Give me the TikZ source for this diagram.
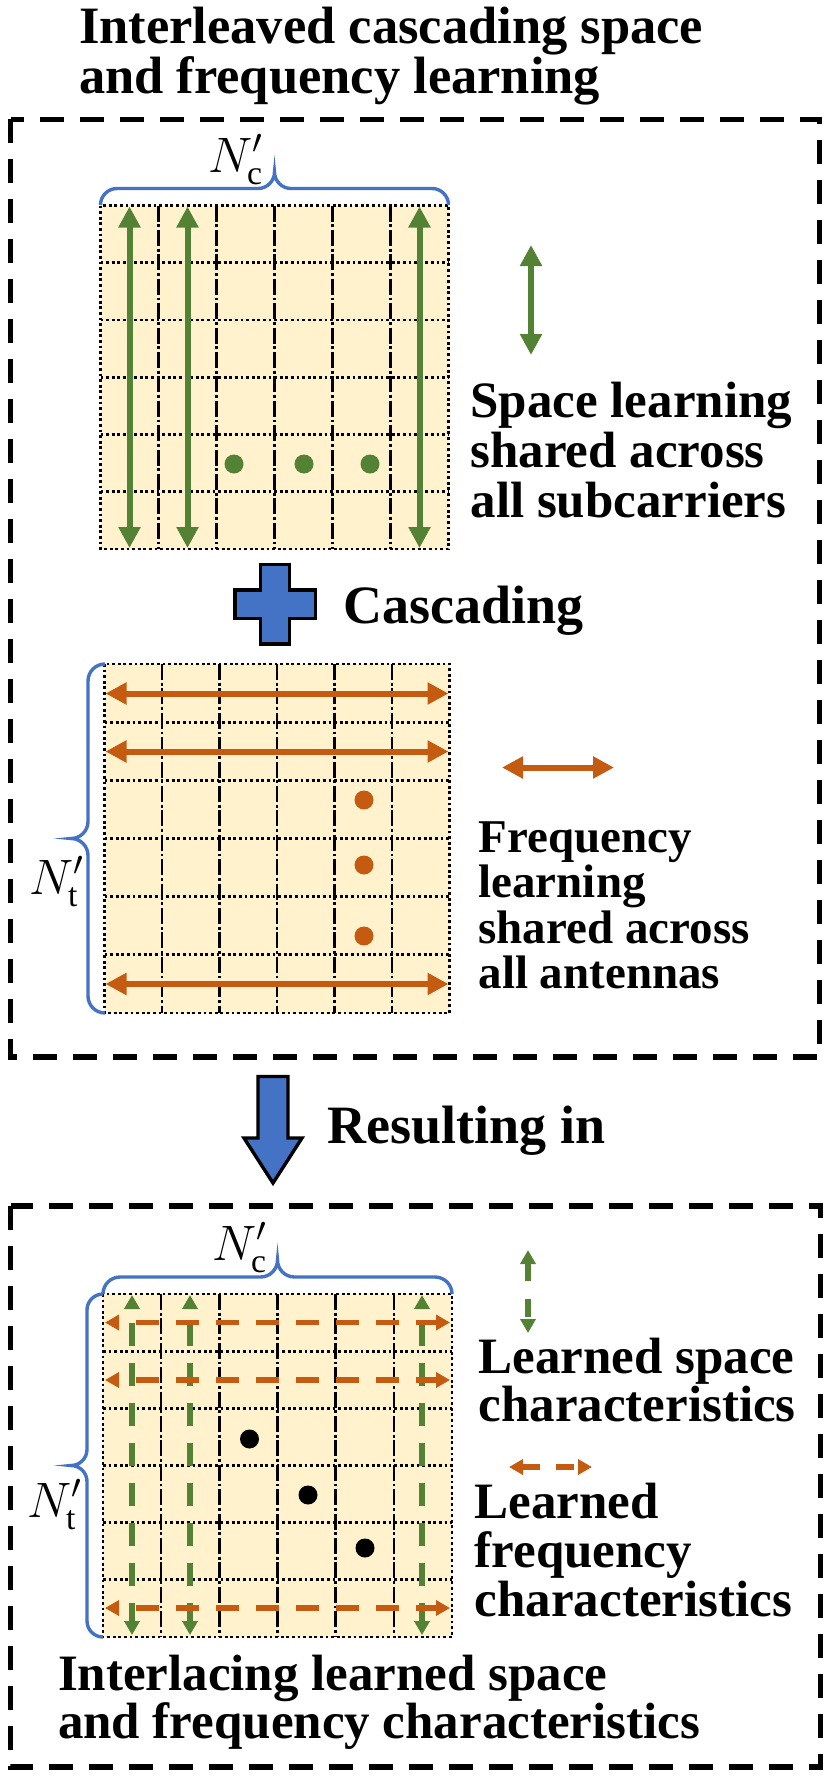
\documentclass[tikz,border=0pt]{standalone}
\usepackage{fontspec}
\setmainfont{Liberation Serif}
\usetikzlibrary{arrows.meta}
\definecolor{cblue}{HTML}{4472C4}
\definecolor{cgreen}{HTML}{548235}
\definecolor{corange}{HTML}{C55A11}
\definecolor{cyellow}{HTML}{FFF2CC}
\newcommand\cellgrid[5]{%
  \node[gridfill, minimum width={(#4-#2)*0.5pt}, minimum height={(#5-#3)*0.5pt}, anchor=north west] (#1) at (#2,#3) {};
  \foreach \k in {1,...,5}{%
    \pgfmathsetmacro\gx{#2+\k*(#4-#2)/6}
    \pgfmathsetmacro\gy{#3+\k*(#5-#3)/6}
    \draw[vline] (\gx,#3) -- (\gx,#5);
    \draw[hline] (#2,\gy) -- (#4,\gy);
  }
  \draw[hline] (#1.north west) rectangle (#1.south east);
}
\begin{document}
\begin{tikzpicture}[x=0.5pt,y=-0.5pt,
  gridfill/.style={fill=cyellow, draw=none, inner sep=0pt, outer sep=0pt},
  vline/.style={line width=1.3pt, dash pattern=on 8pt off 1.4pt on 1.4pt off 1.4pt},
  hline/.style={line width=1.4pt, dash pattern=on 1.4pt off 1.4pt},
  dashbox/.style={line width=2.75pt, dash pattern=on 12pt off 8pt},
  solidarr/.style={line width=3pt, arrows={Triangle[length=10.5pt,width=10.5pt]-Triangle[length=10.5pt,width=10.5pt]}},
  dasharr/.style={line width=2.75pt, dash pattern=on 11.5pt off 8.5pt, arrows={Triangle[length=7pt,width=7.5pt]-Triangle[length=7pt,width=7.5pt]}},
  bracestyle/.style={cblue, line width=1.7pt},
  bigshape/.style={fill=cblue, draw=black, line width=1.7pt, line join=miter},
  txt/.style={inner sep=0pt, outer sep=0pt, anchor=base west, align=left, font=\bfseries},
  mlabel/.style={inner sep=0pt, outer sep=0pt, anchor=base west, font=\fontsize{24}{24}\selectfont}
]
\useasboundingbox (0,0) rectangle (829,1777);

% title (anchor = baseline of last line)
\node[txt, font=\fontsize{26.25}{25}\selectfont\bfseries] (title) at (79,94) {Interleaved cascading space\\and frequency learning};

% boxes
\draw[dashbox] (10.6,119.4) rectangle (819.5,1057);
\draw[dashbox] (10.6,1205.8) rectangle (820.5,1767);

% ---------- grid 1 : space learning
\cellgrid{g1}{100.5}{205.5}{448.5}{549}
\foreach \gx in {129.5,187.5,419.5}{\draw[solidarr, cgreen] (\gx,206.5) -- (\gx,548);}
\foreach \gx in {234,304,370}{\fill[cgreen] (\gx,464) circle[radius=9.5];}
\draw[solidarr, cgreen] (531,245) -- (531,355);
\draw[bracestyle] (100.5,205) .. controls (100.5,195.9) and (107.9,188.5) .. (117,188.5) -- (258,188.5)
  .. controls (267.1,188.5) and (274.5,181.1) .. (274.5,172)
  .. controls (274.5,181.1) and (281.9,188.5) .. (291,188.5) -- (432,188.5)
  .. controls (441.1,188.5) and (448.5,195.9) .. (448.5,205);
\node[mlabel] (nc1) at (208,172) {$N'_{\mathrm{c}}$};
\node[txt, font=\fontsize{25.5}{25}\selectfont\bfseries] (spacetxt) at (470.5,517) {Space learning\\shared across\\all subcarriers};

% plus
\draw[bigshape] (260.7,564.7) -- (289.7,564.7) -- (289.7,590) -- (315.6,590) -- (315.6,618.4) -- (289.7,618.4)
  -- (289.7,644) -- (260.7,644) -- (260.7,618.4) -- (235,618.4) -- (235,590) -- (260.7,590) -- cycle;
\node[txt, font=\fontsize{27}{27}\selectfont\bfseries] (casc) at (343.7,623) {Cascading};

% ---------- grid 2 : frequency learning
\cellgrid{g2}{104.5}{664}{449.5}{1013}
\foreach \gy in {693.5,751.5,984}{\draw[solidarr, corange] (105.5,\gy) -- (448.5,\gy);}
\foreach \gy in {800,865,936}{\fill[corange] (364,\gy) circle[radius=9.5];}
\draw[solidarr, corange] (502,767.5) -- (614,767.5);
\draw[bracestyle] (105,664) .. controls (95.6,664) and (88,671.6) .. (88,681) -- (88,821.5)
  .. controls (88,830.9) and (80.4,838.5) .. (71,838.5)
  .. controls (80.4,838.5) and (88,846.1) .. (88,855.5) -- (88,996)
  .. controls (88,1005.4) and (95.6,1013) .. (105,1013);
\node[mlabel] (nt1) at (29,894) {$N'_{\mathrm{t}}$};
\node[txt, font=\fontsize{23.5}{22.75}\selectfont\bfseries] (freqtxt) at (478.5,988.5) {Frequency\\learning\\shared across\\all antennas};

% down arrow
\draw[bigshape] (258,1076.5) -- (288,1076.5) -- (288,1138) -- (302,1138) -- (273,1183) -- (244,1138) -- (258,1138) -- cycle;
\node[txt, font=\fontsize{27}{27}\selectfont\bfseries] (result) at (327.8,1143) {Resulting in};

% ---------- grid 3 : result
\cellgrid{g3}{103}{1294}{452}{1637}
\foreach \gx in {132,190,422}{\draw[dasharr, cgreen, dash phase=12.5pt] (\gx,1295) -- (\gx,1635);}
\foreach \gy in {1322.5,1380,1608}{\draw[dasharr, corange, dash phase=11pt] (105,\gy) -- (450,\gy);}
\fill[black] (249.5,1439) circle[radius=9.5];
\fill[black] (308,1495) circle[radius=9.5];
\fill[black] (365,1548) circle[radius=9.5];
\draw[dasharr, cgreen, dash pattern=on 9pt off 9pt] (528,1250) -- (528,1333);
\draw[dasharr, corange, dash pattern=on 9pt off 8pt] (509,1467) -- (592,1467);
\draw[bracestyle] (103,1294) .. controls (103,1284.6) and (110.6,1277) .. (120,1277) -- (260.5,1277)
  .. controls (269.9,1277) and (277.5,1269.4) .. (277.5,1260)
  .. controls (277.5,1269.4) and (285.1,1277) .. (294.5,1277) -- (435,1277)
  .. controls (444.4,1277) and (452,1284.6) .. (452,1294);
\draw[bracestyle] (103,1294) .. controls (94.2,1294) and (87,1301.2) .. (87,1310) -- (87,1449.5)
  .. controls (87,1458.3) and (79.8,1465.5) .. (71,1465.5)
  .. controls (79.8,1465.5) and (87,1472.7) .. (87,1481.5) -- (87,1621)
  .. controls (87,1629.8) and (94.2,1637) .. (103,1637);
\node[mlabel] (nc2) at (212,1260) {$N'_{\mathrm{c}}$};
\node[mlabel] (nt2) at (27,1517) {$N'_{\mathrm{t}}$};
\node[txt, font=\fontsize{25.5}{24.35}\selectfont\bfseries] (lspace) at (478.5,1421.7) {Learned space\\characteristics};
\node[txt, font=\fontsize{25.5}{24.5}\selectfont\bfseries] (lfreq) at (474.8,1616) {Learned\\frequency\\characteristics};
\node[txt, font=\fontsize{25.5}{23.7}\selectfont\bfseries] (bottomtxt) at (58,1738) {Interlacing learned space\\and frequency characteristics};
\end{tikzpicture}
\end{document}
